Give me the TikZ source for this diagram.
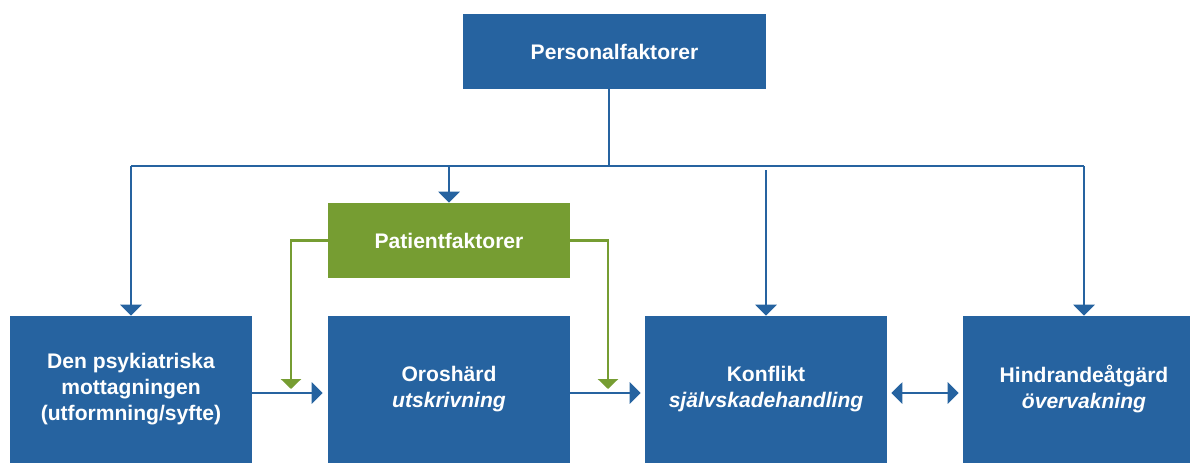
\documentclass[tikz,border=0pt]{standalone}
\usepackage{fontspec}
\setmainfont{Liberation Sans}
\usetikzlibrary{arrows.meta}
\begin{document}
\begin{tikzpicture}[x=0.02cm,y=-0.02cm,
  box/.style={fill=boxblue,text=white,font=\fontsize{12}{14.8}\selectfont\bfseries,align=center,inner sep=0pt,minimum width=4.84cm},
  small/.style={box,minimum height=1.5cm},
  big/.style={box,minimum height=2.94cm},
  line/.style={boxblue,line width=1.6pt},
  arr/.style={line,-{Triangle[width=0.42cm,length=0.22cm]}},
  garr/.style={draw=boxgreen,line width=1.4pt,-{Triangle[width=0.4cm,length=0.2cm]}}]
\definecolor{boxblue}{RGB}{38,99,160}
\definecolor{boxgreen}{RGB}{118,157,50}
\useasboundingbox (0,0) rectangle (1190,463);
\clip (0,0) rectangle (1190,463);
\node[small,minimum width=6.06cm] (personal) at (614.5,51.5) {Personalfaktorer};
\node[small,fill=boxgreen] (patient) at (449,240.5) {Patientfaktorer};
\node[big] (den) at (131,389.5) {Den psykiatriska\\mottagningen\\(utformning/syfte)};
\node[big] (oros) at (449,389.5) {Oroshärd\\\itshape utskrivning};
\node[big] (konflikt) at (766,389.5) {Konflikt\\\itshape självskadehandling};
\node[big] (hindrande) at (1084,389.5) {Hindrandeåtgärd\\\itshape övervakning};
\coordinate (bus) at (609,166);
\coordinate (gleft) at (291,389);
\coordinate (gright) at (608,389);
\draw[line] (personal.south -| bus) -- (bus);
\draw[line] (bus -| den) -- (bus -| hindrande);
\draw[arr] (bus -| den) -- (den.north);
\draw[arr] (bus -| patient) -- (patient.north);
\draw[arr] ([yshift=-0.08cm]bus -| konflikt) -- (konflikt.north);
\draw[arr] (bus -| hindrande) -- (hindrande.north);
\draw[garr] (patient.west) -| (gleft);
\draw[garr] (patient.east) -| (gright);
\draw[arr,shorten >=0.1cm] ([yshift=-2pt]den.east) -- ([yshift=-2pt]oros.west);
\draw[arr,shorten >=0.08cm] ([yshift=-2pt]oros.east) -- ([yshift=-2pt]konflikt.west);
\draw[line,{Triangle[width=0.42cm,length=0.22cm]}-{Triangle[width=0.42cm,length=0.22cm]},shorten <=0.08cm,shorten >=0.08cm] ([yshift=-2pt]konflikt.east) -- ([yshift=-2pt]hindrande.west);
\end{tikzpicture}
\end{document}
